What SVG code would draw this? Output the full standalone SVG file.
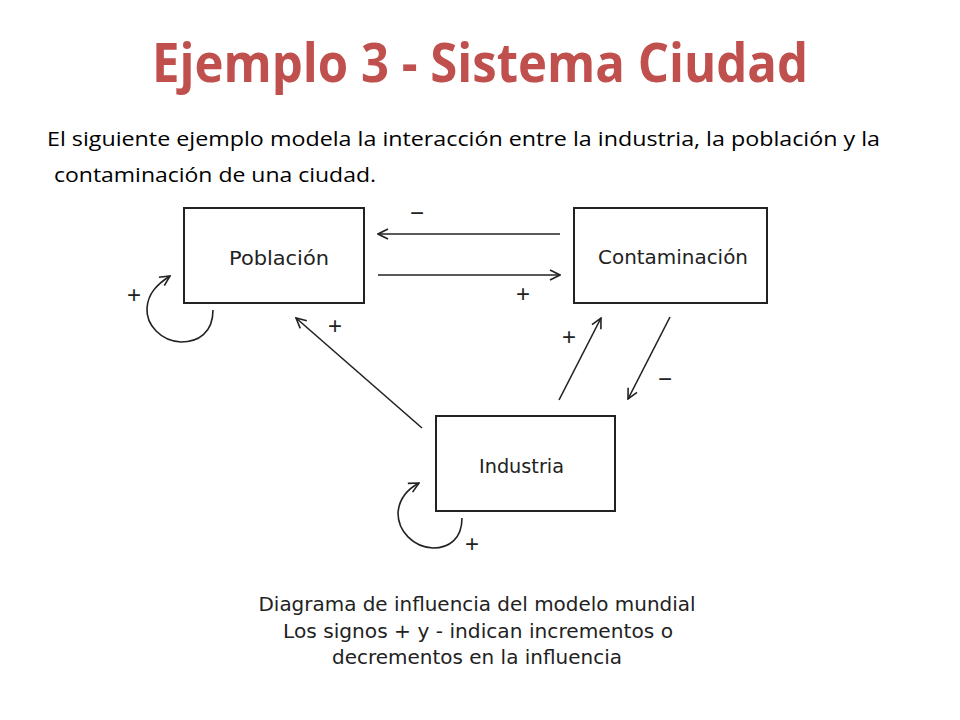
<svg xmlns="http://www.w3.org/2000/svg" width="960" height="720" viewBox="0 0 960 720">
<defs>
<marker id="ah" viewBox="0 0 12 12" refX="11" refY="6" markerWidth="12" markerHeight="12" markerUnits="userSpaceOnUse" orient="auto">
<path d="M1,1 L11,6 L1,11" fill="none" stroke="#222" stroke-width="1.6"/>
</marker>
<style>
.box{fill:#fff;stroke:#222;stroke-width:2}
.lbl{font-family:"DejaVu Sans","Liberation Sans",sans-serif;font-size:19px;fill:#222}
.sign{font-family:"Liberation Sans",sans-serif;font-size:24px;fill:#222;text-anchor:middle}
.con{fill:none;stroke:#222;stroke-width:1.6;marker-end:url(#ah)}
.cap{font-family:"DejaVu Sans","Liberation Sans",sans-serif;font-size:19px;fill:#222;text-anchor:middle}
.para{font-family:"Open Sans","Liberation Sans",sans-serif;font-size:20px;fill:#000}
</style>
</defs>
<rect width="960" height="720" fill="#fff"/>
<text x="480" y="82" text-anchor="middle" font-family="'Open Sans','Liberation Sans',sans-serif" font-weight="bold" font-size="54" fill="#C0504D" textLength="656" lengthAdjust="spacingAndGlyphs">Ejemplo 3 - Sistema Ciudad</text>
<text class="para" x="47" y="146" textLength="833" lengthAdjust="spacingAndGlyphs">El siguiente ejemplo modela la interacción entre la industria, la población y la</text>
<text class="para" x="54" y="182" textLength="322" lengthAdjust="spacingAndGlyphs">contaminación de una ciudad.</text>

<g id="poblacion">
<rect class="box" x="184" y="208" width="180" height="95"/>
<text class="lbl" x="229" y="265" textLength="100" lengthAdjust="spacingAndGlyphs">Población</text>
</g>
<g id="contaminacion">
<rect class="box" x="574" y="208" width="193" height="95"/>
<text class="lbl" x="598" y="264" textLength="150" lengthAdjust="spacingAndGlyphs">Contaminación</text>
</g>
<g id="industria">
<rect class="box" x="436" y="416" width="179" height="95"/>
<text class="lbl" x="479" y="473" textLength="85" lengthAdjust="spacingAndGlyphs">Industria</text>
</g>

<g id="connectors">
<line class="con" x1="560" y1="234" x2="378" y2="234"/>
<line class="con" x1="378" y1="275" x2="560" y2="275"/>
<line class="con" x1="559" y1="400" x2="601" y2="318"/>
<line class="con" x1="670" y1="317" x2="628" y2="399"/>
<line class="con" x1="422" y1="428" x2="296" y2="318"/>
<path class="con" d="M213,310 C213,333 198,342 181,342 C161,341 146,325 147,308 C148,294 156,285 170,276"/>
<path class="con" d="M462,518 C462,539 449,548 433,548 C413,547 398,531 398,513 C399,499 406,490 419,483"/>
<text class="sign" x="417" y="221">−</text>
<text class="sign" x="523" y="302">+</text>
<text class="sign" x="569" y="345">+</text>
<text class="sign" x="665" y="387">−</text>
<text class="sign" x="335" y="334">+</text>
<text class="sign" x="134" y="303">+</text>
<text class="sign" x="472" y="552">+</text>
</g>

<g id="caption">
<text class="cap" x="477" y="611" textLength="437" lengthAdjust="spacingAndGlyphs">Diagrama de influencia del modelo mundial</text>
<text class="cap" x="478" y="638" textLength="390" lengthAdjust="spacingAndGlyphs">Los signos + y - indican incrementos o</text>
<text class="cap" x="477" y="664" textLength="290" lengthAdjust="spacingAndGlyphs">decrementos en la influencia</text>
</g>
</svg>
